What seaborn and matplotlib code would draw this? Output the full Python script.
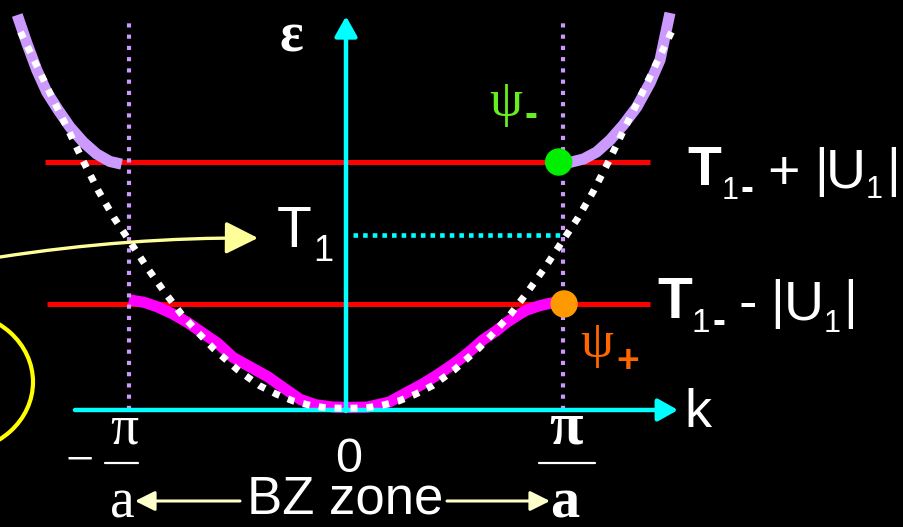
import matplotlib
matplotlib.use("Agg")
import matplotlib.pyplot as plt
import seaborn as sns
from matplotlib.patches import Ellipse
from matplotlib.lines import Line2D

# k in units of pi/a, energy in units of T1
k_free = [-1.50, -1.43, -1.36, -1.28, -1.21, -1.14, -1.07, -1.00, -0.92, -0.84, -0.76, -0.68, -0.61,
          -0.50, -0.40, -0.32, -0.24, -0.16, -0.09, 0.00, 0.09, 0.16, 0.24, 0.32, 0.40, 0.50,
          0.61, 0.68, 0.76, 0.84, 0.92, 1.00, 1.07, 1.14, 1.21, 1.28, 1.36, 1.43, 1.50]
eps_free = [2.16, 1.98, 1.80, 1.60, 1.42, 1.25, 1.10, 0.97, 0.82, 0.68, 0.55, 0.44, 0.35,
            0.23, 0.14, 0.09, 0.05, 0.025, 0.012, 0.01, 0.012, 0.025, 0.05, 0.09, 0.14, 0.23,
            0.35, 0.44, 0.55, 0.68, 0.82, 0.97, 1.10, 1.25, 1.42, 1.60, 1.80, 1.98, 2.16]

# lower band (magenta)
k_low = [-1.00, -0.93, -0.87, -0.80, -0.73, -0.66, -0.59, -0.52, -0.44, -0.36, -0.28, -0.21,
         -0.14, -0.06, 0.02, 0.10, 0.20, 0.28, 0.355, 0.42, 0.48, 0.525, 0.58, 0.63, 0.69,
         0.74, 0.79, 0.83, 0.89, 0.94, 1.00]
eps_low = [0.63, 0.615, 0.59, 0.55, 0.50, 0.44, 0.38, 0.30, 0.245, 0.19, 0.12, 0.06,
           0.03, 0.017, 0.015, 0.017, 0.046, 0.10, 0.15, 0.20, 0.25, 0.29, 0.345, 0.40, 0.45,
           0.50, 0.54, 0.57, 0.595, 0.61, 0.62]

# upper band (lavender), outside the first zone
k_up_left = [-1.515, -1.471, -1.425, -1.379, -1.326, -1.272, -1.211, -1.149, -1.088, -1.034]
eps_up_left = [2.257, 2.097, 1.943, 1.817, 1.714, 1.617, 1.531, 1.463, 1.42, 1.405]
k_up_right = [1.00, 1.094, 1.155, 1.217, 1.278, 1.340, 1.401, 1.447, 1.493]
eps_up_right = [1.405, 1.434, 1.474, 1.543, 1.629, 1.731, 1.869, 2.00, 2.269]

zone_edges = [-1.0, 1.0]
T1 = 1.0
gap_top = 1.417   # T1 + |U1|
gap_bottom = 0.606  # T1 - |U1|

W, H = 904, 527
cyan = "#00ffff"
lav = "#cc99ff"

sns.set_theme(style="dark", rc={"axes.facecolor": "black", "figure.facecolor": "black"})
fig = plt.figure(figsize=(W / 100, H / 100), dpi=100)
ax = fig.add_axes([0, 0, 1, 1])
ax.set_xlim(-346 / 217, (W - 346) / 217)
ax.set_ylim(-(H - 410) / 175, 410 / 175)
ax.axis("off")


def put(x, y, s, size, color="white", family="Liberation Sans", weight="normal"):
    fig.text(x / W, 1 - y / H, s, fontsize=size, color=color, family=family,
             weight=weight, ha="left", va="baseline")


def fpos(x, y):
    return (x / W, 1 - y / H)


# red gap levels
ax.hlines(gap_top, -1.387, 1.40, color="#ff0000", lw=3.6, zorder=1)
ax.hlines(gap_bottom, -1.378, 1.40, color="#ff0000", lw=3.6, zorder=1)

# bands
sns.lineplot(x=k_low, y=eps_low, ax=ax, color="#ff00ff", lw=8, sort=False,
             estimator=None, solid_capstyle="butt", solid_joinstyle="round", zorder=2)
sns.lineplot(x=k_up_left, y=eps_up_left, ax=ax, color=lav, lw=8, sort=False,
             estimator=None, solid_capstyle="butt", solid_joinstyle="round", zorder=2)
sns.lineplot(x=k_up_right, y=eps_up_right, ax=ax, color=lav, lw=8, sort=False,
             estimator=None, solid_capstyle="butt", solid_joinstyle="round", zorder=2)

# zone boundaries
for kz in zone_edges:
    ax.plot([kz, kz], [0, 2.24], color=lav, lw=3.0, ls=(0, (1, 1.7)),
            dash_capstyle="butt", zorder=3)

# T1 level
ax.plot([0.03, 1.0], [T1, T1], color=cyan, lw=3.3, ls=(0, (1, 1.1)),
        dash_capstyle="butt", zorder=3)

# free electron parabola
sns.lineplot(x=k_free, y=eps_free, ax=ax, color="white", lw=5, sort=False,
             estimator=None, ls=(0, (1, 1.3)), dash_capstyle="butt", zorder=4)

# axes
ax.annotate("", xy=(1.53, 0), xytext=(-1.249, 0),
            arrowprops=dict(arrowstyle="-|>,head_length=0.8,head_width=0.45", color=cyan,
                            lw=3.2, mutation_scale=15, shrinkA=0, shrinkB=0), zorder=3.5)
ax.annotate("", xy=(0, 2.25), xytext=(0, -0.006),
            arrowprops=dict(arrowstyle="-|>,head_length=0.8,head_width=0.45", color=cyan,
                            lw=3.2, mutation_scale=15, shrinkA=0, shrinkB=0), zorder=3.5)

# states at the zone edge
sns.scatterplot(x=[0.98], y=[gap_top], ax=ax, s=390, color="#00ee00", edgecolor="none", zorder=6)
sns.scatterplot(x=[1.005], y=[gap_bottom], ax=ax, s=390, color="#ff9900", edgecolor="none", zorder=6)

# yellow pointer and ellipse
ax.annotate("", xy=fpos(258, 238), xytext=fpos(0, 257), xycoords="figure fraction",
            textcoords="figure fraction",
            arrowprops=dict(arrowstyle="-|>,head_length=1.0,head_width=0.5", color="#ffff99",
                            lw=2.4, mutation_scale=20, shrinkA=0, shrinkB=0,
                            connectionstyle="arc3,rad=-0.04"))
fig.add_artist(Ellipse(fpos(-45, 382), 156 / W, 140 / H, transform=fig.transFigure,
                       fill=False, edgecolor="#ffff00", lw=3))

# BZ arrows
for x0, x1 in [(240, 135), (447, 550)]:
    ax.annotate("", xy=fpos(x1, 501), xytext=fpos(x0, 501), xycoords="figure fraction",
                textcoords="figure fraction",
                arrowprops=dict(arrowstyle="-|>,head_length=1.0,head_width=0.5", color="#ffffcc",
                                lw=2.2, mutation_scale=12, shrinkA=0, shrinkB=0))

# fraction bars
for x0, x1 in [(105, 138), (539, 595)]:
    fig.add_artist(Line2D([x0 / W, x1 / W], [1 - 463 / H] * 2, color="white", lw=1.6,
                          transform=fig.transFigure))

# texts
put(280, 52, "ε", 40, family="Liberation Serif", weight="bold")
put(489, 116, "ψ", 38, color="#66ee22", family="Liberation Serif")
put(525, 126, "-", 28, color="#66ee22", weight="bold")
put(580, 357, "ψ", 38, color="#ff6600", family="Liberation Serif")
put(616, 372, "+", 28, color="#ff6600", weight="bold")

put(687, 185, "T", 40, weight="bold")
put(722, 199, "1", 22)
put(741, 200, "-", 28, weight="bold")
put(767, 189, "+", 40)
put(814, 186, "|", 38)
put(826, 187, "U", 40)
put(866, 198, "1", 22)
put(886, 186, "|", 38)

put(657, 318, "T", 41, weight="bold")
put(691, 332, "1", 24)
put(713, 333, "-", 28, weight="bold")
put(739, 320, "-", 40)
put(770, 318, "|", 38)
put(784, 320, "U", 40)
put(824, 332, "1", 22)
put(843, 318, "|", 38)

put(277, 247, "T", 41)
put(313, 261, "1", 26)
put(684, 427, "k", 39)
put(335, 472, "0", 35)
put(247, 513, "BZ zone", 38)

put(66, 475, "−", 36, family="Liberation Serif")
put(110, 443, "π", 40, family="Liberation Serif")
put(110, 518, "a", 40, family="Liberation Serif")
put(549, 443, "π", 44, family="Liberation Serif", weight="bold")
put(550, 518, "a", 42, family="Liberation Serif", weight="bold")

fig.savefig("out.png", dpi=100, facecolor="black")
